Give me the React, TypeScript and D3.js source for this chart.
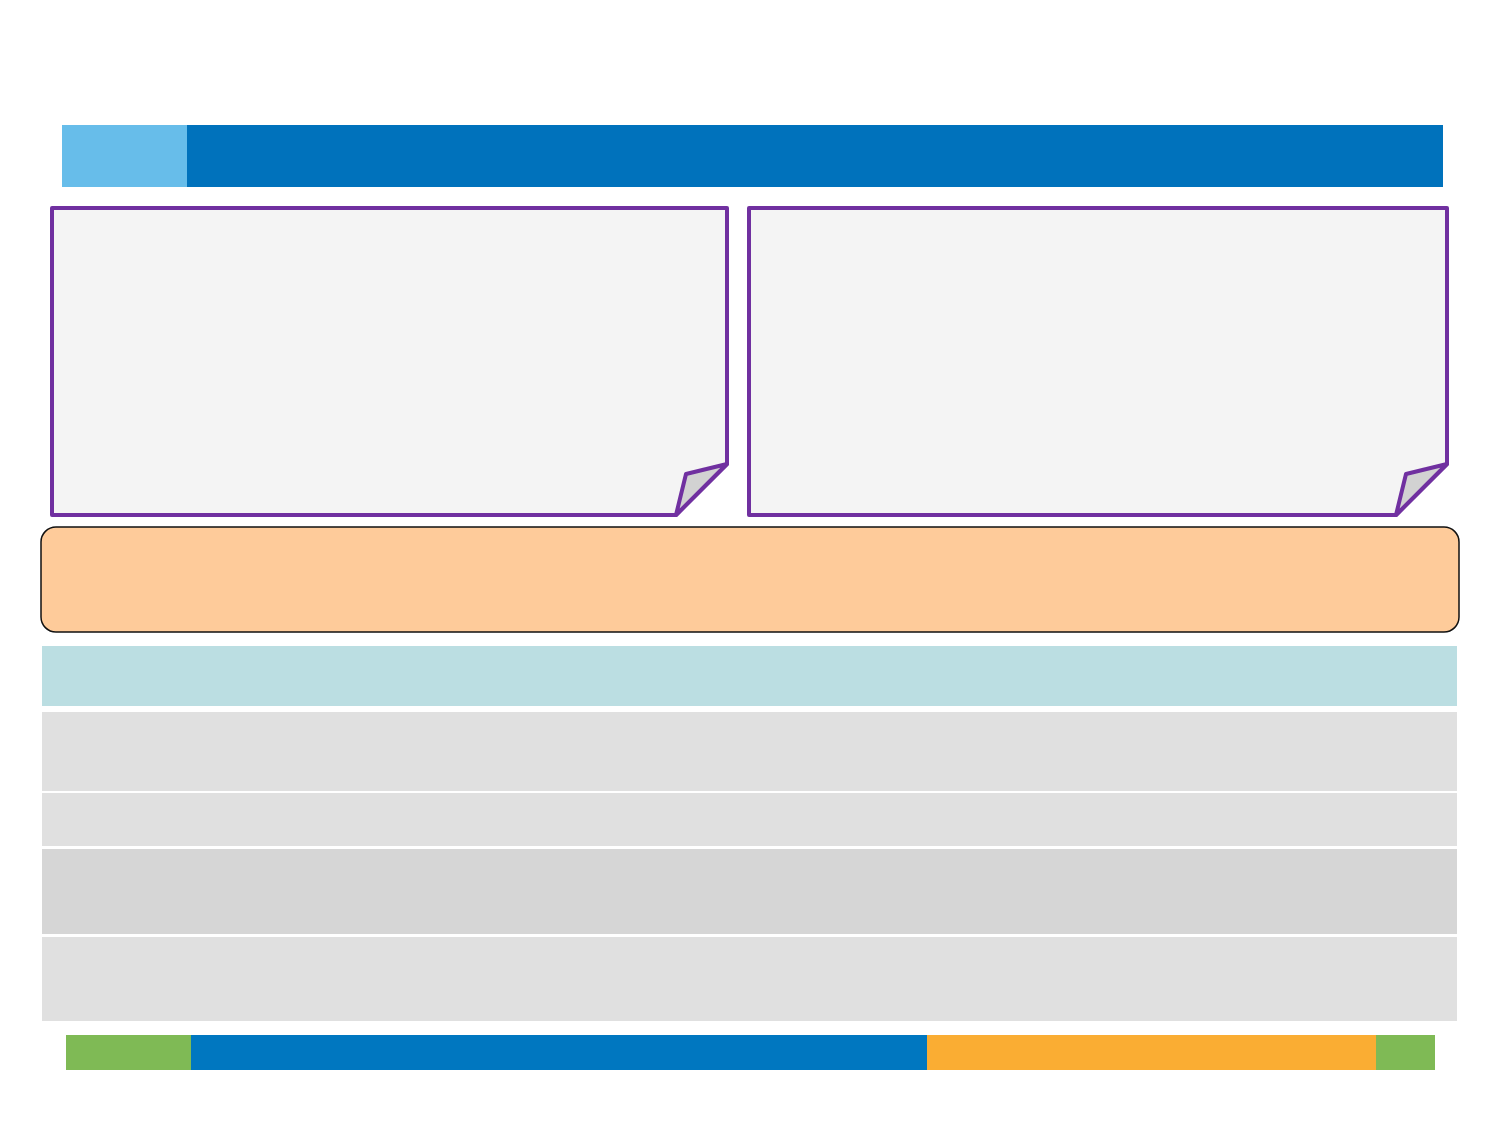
import { useEffect, useRef } from "react";
import * as d3 from "d3";

// slide template: header bar, two note cards, a callout, a table and a footer strip (no text)
const headerSegments = ["accent", "title"];
const headerShares = [125, 1256];

const noteCards = ["left", "right"];
const cardShares = [675, 698];

const tableRows = ["head", "row1", "row2", "row3", "row4"];
const rowHeights = [60, 79, 53, 85, 84];
const rowGaps = [6, 2, 3, 3];

const footerSegments = ["green1", "blue", "orange", "green2"];
const footerShares = [125, 736, 449, 59];

const W = 1500;
const H = 1125;

const headerColors = ["#67BDEA", "#0072BC"];
const rowColors = ["#BBDEE2", "#E0E0E0", "#E0E0E0", "#D6D6D6", "#E0E0E0"];
const footerColors = ["#7FBA55", "#0077C0", "#FAAD33", "#7FBA55"];

const App = () => {
  const svgRef = useRef<SVGSVGElement | null>(null);

  useEffect(() => {
    if (!svgRef.current) return;
    const svg = d3.select(svgRef.current);
    svg.selectAll("*").remove();
    svg.attr("viewBox", `0 0 ${W} ${H}`);

    svg.append("rect").attr("width", W).attr("height", H).attr("fill", "#ffffff");

    // header bar
    const hx = d3.scaleLinear().domain([0, d3.sum(headerShares)]).range([62, 1443]);
    const hStarts = Array.from(d3.cumsum([0, ...headerShares]));
    svg
      .append("g")
      .selectAll("rect")
      .data(headerSegments)
      .join("rect")
      .attr("x", (_, i) => hx(hStarts[i]))
      .attr("y", 125)
      .attr("width", (_, i) => hx(hStarts[i + 1]) - hx(hStarts[i]))
      .attr("height", 62)
      .attr("fill", (_, i) => headerColors[i]);

    // note cards with folded corner
    const cardGap = 22;
    const cx = d3
      .scaleLinear()
      .domain([0, d3.sum(cardShares) + cardGap])
      .range([52, 1447]);
    const top = 208;
    const bottom = 515;
    const fold = 51;
    let acc = 0;
    noteCards.forEach((_, i) => {
      const x0 = cx(acc);
      const x1 = cx(acc + cardShares[i]);
      acc += cardShares[i] + cardGap;
      const g = svg.append("g");
      g.append("path")
        .attr(
          "d",
          `M${x0},${top}L${x1},${top}L${x1},${bottom - fold}L${x1 - fold},${bottom}L${x0},${bottom}Z`
        )
        .attr("fill", "#F4F4F4")
        .attr("stroke", "#7030A0")
        .attr("stroke-width", 4)
        .attr("stroke-linejoin", "round");
      g.append("path")
        .attr(
          "d",
          `M${x1 - fold},${bottom}L${x1 - fold + 10},${bottom - 41}L${x1},${bottom - fold}Z`
        )
        .attr("fill", "#D2D2D2")
        .attr("stroke", "#7030A0")
        .attr("stroke-width", 4)
        .attr("stroke-linejoin", "round");
    });

    // callout box
    svg
      .append("rect")
      .attr("x", 41)
      .attr("y", 527)
      .attr("width", 1418)
      .attr("height", 105)
      .attr("rx", 15)
      .attr("fill", "#FECB9A")
      .attr("stroke", "#111111")
      .attr("stroke-width", 1.5);

    // table rows
    const ty = d3
      .scaleLinear()
      .domain([0, d3.sum(rowHeights) + d3.sum(rowGaps)])
      .range([646, 1021]);
    const starts = Array.from(
      d3.cumsum([0, ...rowHeights.slice(0, -1).map((h, i) => h + rowGaps[i])])
    );
    svg
      .append("g")
      .selectAll("rect")
      .data(tableRows)
      .join("rect")
      .attr("x", 42)
      .attr("y", (_, i) => ty(starts[i]))
      .attr("width", 1415)
      .attr("height", (_, i) => ty(starts[i] + rowHeights[i]) - ty(starts[i]))
      .attr("fill", (_, i) => rowColors[i]);

    // footer strip
    const fx = d3.scaleLinear().domain([0, d3.sum(footerShares)]).range([66, 1435]);
    const fStarts = Array.from(d3.cumsum([0, ...footerShares]));
    svg
      .append("g")
      .selectAll("rect")
      .data(footerSegments)
      .join("rect")
      .attr("x", (_, i) => fx(fStarts[i]))
      .attr("y", 1035)
      .attr("width", (_, i) => fx(fStarts[i + 1]) - fx(fStarts[i]))
      .attr("height", 35)
      .attr("fill", (_, i) => footerColors[i]);
  }, []);

  return (
    <svg
      ref={svgRef}
      width={W}
      height={H}
      style={{ position: "absolute", left: 0, top: 0, display: "block" }}
    />
  );
};

export default App;
